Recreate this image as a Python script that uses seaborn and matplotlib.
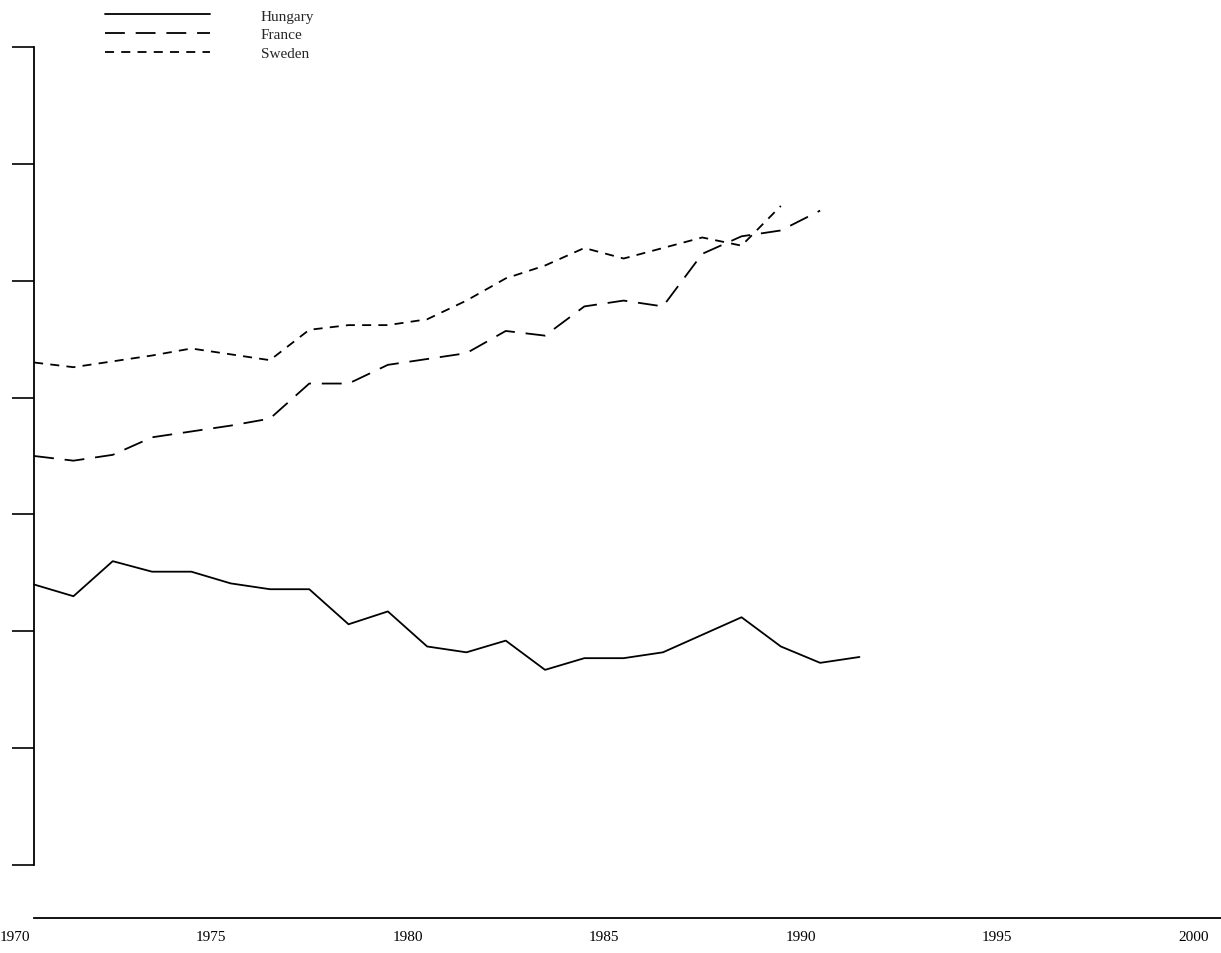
import numpy as np
import pandas as pd
import matplotlib
matplotlib.use("Agg")
import matplotlib.pyplot as plt
import seaborn as sns

# Yearly series, plotted at mid-year
hungary_years = list(range(1970, 1992))
hungary = [24.0, 23.0, 26.0, 25.1, 25.1, 24.1, 23.6, 23.6, 20.6, 21.7, 18.7,
           18.2, 19.2, 16.7, 17.7, 17.7, 18.2, 19.7, 21.2, 18.7, 17.3, 17.8]

france_years = list(range(1970, 1991))
france = [35.0, 34.6, 35.1, 36.6, 37.1, 37.6, 38.2, 41.2, 41.2, 42.8, 43.3,
          43.8, 45.7, 45.3, 47.8, 48.3, 47.8, 52.3, 53.8, 54.3, 56.0]

sweden_years = list(range(1970, 1990))
sweden = [43.0, 42.6, 43.1, 43.6, 44.2, 43.7, 43.2, 45.8, 46.2, 46.2, 46.7,
          48.3, 50.2, 51.3, 52.8, 51.9, 52.8, 53.7, 53.0, 56.4]

countries = ["Hungary", "France", "Sweden"]
xtick_years = [1970, 1975, 1980, 1985, 1990, 1995, 2000]
ytick_values = [0, 10, 20, 30, 40, 50, 60, 70]

frames = []
for name, yrs, vals in [("Hungary", hungary_years, hungary),
                        ("France", france_years, france),
                        ("Sweden", sweden_years, sweden)]:
    frames.append(pd.DataFrame({"year": np.array(yrs) + 0.5,
                                "value": vals,
                                "country": name}))
df = pd.concat(frames, ignore_index=True)

sns.set_theme(style="white")
plt.rcParams["font.family"] = ["Liberation Serif", "DejaVu Serif"]

W, H, DPI = 1221, 954, 100
fig = plt.figure(figsize=(W / DPI, H / DPI), dpi=DPI)
# axes span the full width; the vertical axis line sits at mid-1970
ax = fig.add_axes([0, 1 - 866 / H, 1, (866 - 48) / H])

dash_styles = {"Hungary": "", "France": (11, 6), "Sweden": (5, 4)}
sns.lineplot(data=df, x="year", y="value", style="country",
             style_order=countries, dashes=dash_styles, color="black",
             linewidth=1.3, ax=ax, legend=True)

x_start, x_end = 1970.5, 2000.70
ax.set_xticks(xtick_years)
ax.set_xticklabels([str(y) for y in xtick_years], fontsize=10.5,
                   fontweight="bold")
ax.set_yticks(ytick_values)
ax.set_yticklabels([])
# limits after ticks so the tick list does not widen the view
ax.set_xlim(1969.631, x_end)
ax.set_ylim(0, 70)
ax.set_xlabel("")
ax.set_ylabel("")

for side in ["top", "right"]:
    ax.spines[side].set_visible(False)
ax.spines["left"].set_position(("data", x_start))
ax.spines["left"].set_linewidth(1.3)
ax.spines["left"].set_color("black")
ax.spines["bottom"].set_linewidth(1.3)
ax.spines["bottom"].set_color("black")
ax.spines["bottom"].set_position(("outward", 38))
ax.spines["bottom"].set_bounds(x_start, x_end)

ax.tick_params(axis="y", which="major", direction="out", length=16,
               width=1.2, color="black", left=True)
ax.tick_params(axis="x", which="major", length=0, pad=9, colors="black")
ax.grid(False)

handles, labels = ax.get_legend_handles_labels()
ax.get_legend().remove()
fig.legend(handles, labels, loc="upper left",
           bbox_to_anchor=(105 / W, 1 - 10 / H), frameon=False,
           fontsize=11, handlelength=6.9, handletextpad=3.3,
           labelspacing=0.33, borderpad=0, borderaxespad=0)

fig.savefig("out.png", dpi=DPI, facecolor="white")
